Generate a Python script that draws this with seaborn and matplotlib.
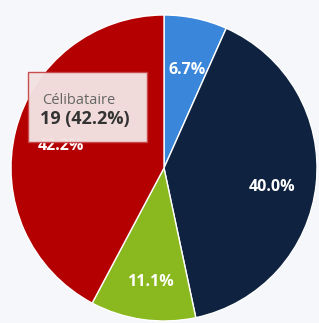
import matplotlib
matplotlib.use("Agg")
import matplotlib.pyplot as plt
import numpy as np
import seaborn as sns
from matplotlib.patches import Rectangle

# data
labels = ["Veuf", "Marié", "Divorcé", "Célibataire"]
counts = [3, 18, 5, 19]
colors = ["#3a86db", "#0f2340", "#8ab81f", "#b40000"]
label_dist = [0.66, 0.72, 0.75, 0.69]
label_shift = [-1, -4, 1, 2]  # degrees, nudges the label off the slice middle

sns.set_theme(style="white")
plt.rcParams["font.family"] = ["Open Sans", "DejaVu Sans"]

W, H = 319, 323
fig = plt.figure(figsize=(W / 100, H / 100), dpi=100)
fig.patch.set_facecolor("#f5f7fa")

# pie centre and radius in pixels
cx, cy, r = 164, 168, 153
ax = fig.add_axes([(cx - r) / W, (H - cy - r) / H, 2 * r / W, 2 * r / H])
ax.set_facecolor("none")

total = sum(counts)
wedges, texts = ax.pie(
    counts,
    colors=colors,
    startangle=90,
    counterclock=False,
    wedgeprops=dict(edgecolor="white", linewidth=1),
)
# percentage labels inside each slice
for w, n, d, s in zip(wedges, counts, label_dist, label_shift):
    ang = np.deg2rad((w.theta1 + w.theta2) / 2 + s)
    ax.text(d * np.cos(ang), d * np.sin(ang), f"{n / total * 100:.1f}%",
            ha="center", va="center", color="white", fontsize=11.5, fontweight="bold")
ax.set_xlim(-1, 1)
ax.set_ylim(-1, 1)
ax.set_aspect("equal")
ax.axis("off")

# tooltip for the hovered slice
i = 3
bx0, by0, bx1, by1 = 28, 72, 147, 142
fig.patches.append(Rectangle((bx0 / W, 1 - by1 / H), (bx1 - bx0) / W, (by1 - by0) / H,
                             transform=fig.transFigure, facecolor="#f3e2e2", alpha=0.97,
                             edgecolor="#c84848", linewidth=1, zorder=5))
fig.text(42 / W, 1 - 104 / H, labels[i], fontsize=10.5, color="#666666",
         va="baseline", zorder=6)
fig.text(40 / W, 1 - 124 / H, f"{counts[i]} ({counts[i] / total * 100:.1f}%)",
         fontsize=13, fontweight="bold", color="#333333", va="baseline", zorder=6)

fig.savefig("out.png", dpi=100, facecolor=fig.get_facecolor())
